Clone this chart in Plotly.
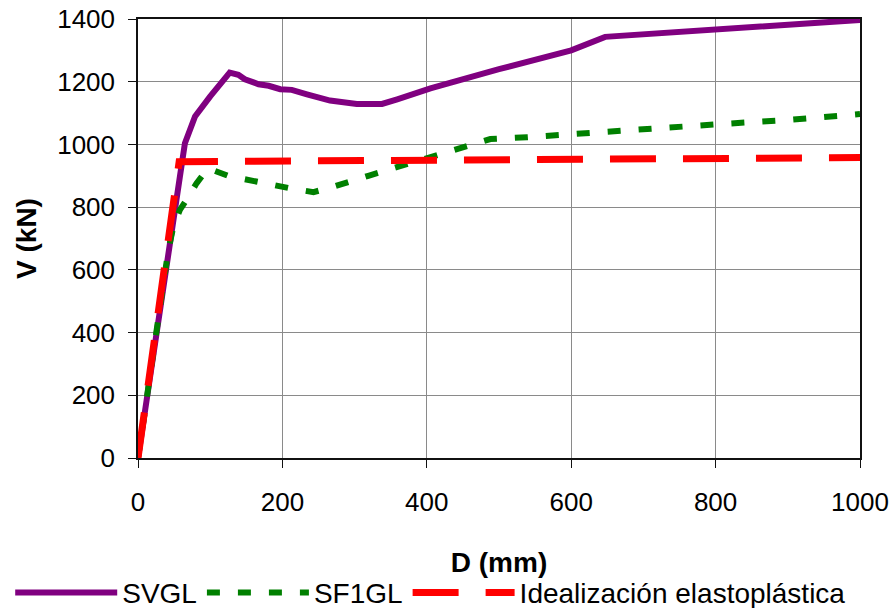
import plotly.graph_objects as go

# Load-displacement curves (D in mm, V in kN)
svgl_d = [0, 10, 20, 30, 40, 50, 58, 65, 79, 100, 114, 127, 139, 148, 167, 181,
          197, 213, 234, 266, 303, 338, 359, 405, 500, 600, 647, 1000]
svgl_v = [0, 160, 320, 480, 640, 790, 897, 1004, 1089, 1153, 1195, 1229, 1222,
          1208, 1192, 1187, 1176, 1174, 1160, 1140, 1129, 1129, 1144, 1179,
          1240, 1300, 1343, 1397]

sf1gl_d = [0, 10, 20, 30, 42, 49, 58, 70, 81, 97, 109, 128, 148, 183, 211, 243,
           266, 319, 372, 427, 488, 539, 600, 700, 800, 900, 968, 1000]
sf1gl_v = [0, 165, 330, 495, 663, 738, 791, 833, 876, 924, 913, 897, 889, 871,
           860, 848, 862, 900, 938, 975, 1017, 1023, 1033, 1050, 1064, 1078,
           1091, 1097]

ideal_d = [0, 57, 1000]
ideal_v = [0, 945, 958]

x_ticks = [0, 200, 400, 600, 800, 1000]
y_ticks = [0, 200, 400, 600, 800, 1000, 1200, 1400]

FONT = "Arial, Liberation Sans, sans-serif"

fig = go.Figure()
fig.add_trace(go.Scatter(x=svgl_d, y=svgl_v, mode="lines", name="SVGL",
                         line=dict(color="#800080", width=6)))
fig.add_trace(go.Scatter(x=sf1gl_d, y=sf1gl_v, mode="lines", name="SF1GL",
                         line=dict(color="#008000", width=6, dash="13px,18px")))
fig.add_trace(go.Scatter(x=ideal_d, y=ideal_v, mode="lines",
                         name="Idealización elastoplástica",
                         line=dict(color="#FF0000", width=7, dash="46px,27px")))

axis_common = dict(
    showgrid=True, gridcolor="#8a8a8a", gridwidth=1,
    showline=True, linecolor="#111111", linewidth=1.5, mirror=True,
    ticks="outside", ticklen=8, tickcolor="#111111",
    tickfont=dict(family=FONT, size=26, color="black"),
    zeroline=False, automargin=False,
)

fig.update_layout(
    width=894, height=608,
    margin=dict(l=138, r=34, t=19, b=150, autoexpand=False),
    paper_bgcolor="white", plot_bgcolor="white",
    font=dict(family=FONT, color="black"),
    xaxis=dict(range=[0, 1000], tickvals=x_ticks, ticklabelstandoff=12,
               title=dict(text="<b>D (mm)</b>", font=dict(size=28), standoff=36),
               **axis_common),
    yaxis=dict(range=[0, 1400], tickvals=y_ticks, ticklabelstandoff=8,
               title=dict(text="<b>V (kN)</b>", font=dict(size=28), standoff=12),
               **axis_common),
    showlegend=True,
    # legend sits left of / below the plot area so it may span the full row
    legend=dict(orientation="h", x=-0.177, xanchor="left", xref="paper",
                y=-0.25, yanchor="top", yref="paper",
                font=dict(family=FONT, size=28),
                bgcolor="rgba(0,0,0,0)", itemwidth=102),
)

fig.write_html("out.html")
